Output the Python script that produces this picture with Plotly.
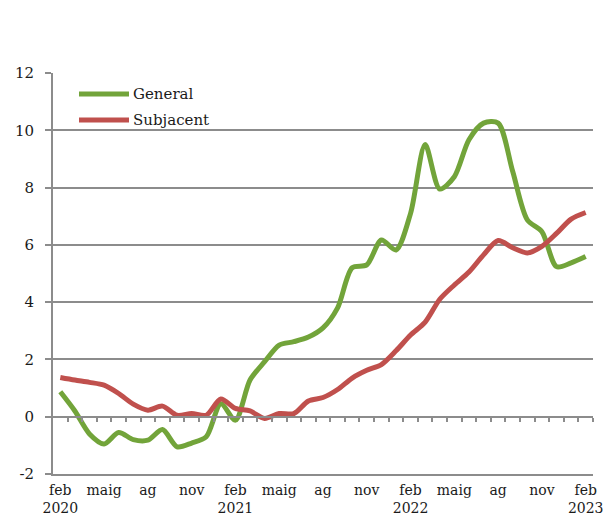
import plotly.graph_objects as go

categories = list(range(37))  # monthly, feb 2020 .. feb 2023

general = [0.87, 0.2, -0.6, -0.95, -0.55, -0.8, -0.82, -0.45, -1.05, -0.92, -0.7, 0.45,
           -0.12, 1.28, 1.92, 2.5, 2.62, 2.78, 3.1, 3.8, 5.2, 5.3, 6.17, 5.82,
           7.1, 9.5, 7.95, 8.38, 9.67, 10.25, 10.25, 8.56, 6.87, 6.46, 5.24, 5.37, 5.59]
subjacent = [1.37, 1.28, 1.2, 1.1, 0.81, 0.44, 0.23, 0.37, 0.05, 0.11, 0.05, 0.62,
             0.29, 0.2, -0.06, 0.11, 0.11, 0.55, 0.67, 0.95, 1.35, 1.62, 1.82, 2.3,
             2.85, 3.3, 4.1, 4.6, 5.05, 5.65, 6.15, 5.9, 5.72, 5.95, 6.4, 6.9, 7.13]

tick_idx = [0, 3, 6, 9, 12, 15, 18, 21, 24, 27, 30, 33, 36]
tick_text = ["feb<br>2020", "maig", "ag", "nov", "feb<br>2021", "maig", "ag", "nov",
             "feb<br>2022", "maig", "ag", "nov", "feb<br>2023"]
y_ticks = [-2, 0, 2, 4, 6, 8, 10, 12]
y_text = ["-2", "0", "2", "4", "6", "8", "10", "12"]
series_names = ["General", "Subjacent"]

GREEN = "#72A43A"
RED = "#C0504D"
GRID = "#8C8C8C"
FONT = "DejaVu Serif"
TXT = "#1a1a1a"

W, H = 611, 515
L, R, T, B = 53, 18, 73, 41
PW, PH = W - L - R, H - T - B


def px_x(p):
    return (p - L) / PW


def px_y(p):
    return (H - B - p) / PH


fig = go.Figure()
fig.add_trace(go.Scatter(x=categories, y=general, name=series_names[0], mode="lines",
                         line=dict(color=GREEN, width=5, shape="spline", smoothing=0.8)))
fig.add_trace(go.Scatter(x=categories, y=subjacent, name=series_names[1], mode="lines",
                         line=dict(color=RED, width=5, shape="spline", smoothing=0.8)))
# helper trace so the zero-line category axis (with tick marks) is drawn
fig.add_trace(go.Scatter(x=categories, y=general, xaxis="x2", mode="lines",
                         line=dict(width=0), opacity=0, showlegend=False, hoverinfo="skip"))

# legend drawn as swatches + labels (long Excel-style swatches)
for name, color, yp in [(series_names[0], GREEN, 94), (series_names[1], RED, 120)]:
    fig.add_shape(type="line", xref="paper", yref="paper",
                  x0=px_x(79), x1=px_x(129), y0=px_y(yp), y1=px_y(yp),
                  line=dict(color=color, width=5), layer="above")
    fig.add_annotation(xref="paper", yref="paper", x=px_x(131), y=px_y(yp),
                       xanchor="left", yanchor="middle", text=name, showarrow=False,
                       font=dict(family=FONT, size=15, color=TXT))

fig.update_layout(
    width=W, height=H,
    margin=dict(l=L, r=R, t=T, b=B, autoexpand=False),
    paper_bgcolor="white", plot_bgcolor="white",
    font=dict(family=FONT, size=14, color=TXT),
    showlegend=False,
    xaxis=dict(range=[-0.5, 36.5], tickmode="array", tickvals=tick_idx, ticktext=tick_text,
               showgrid=False, zeroline=False, showline=True, linecolor=GRID, linewidth=2,
               ticks="", tickfont=dict(family=FONT, size=14, color=TXT),
               ticklabelstandoff=2, automargin=False),
    xaxis2=dict(range=[-0.5, 36.5], overlaying="x", anchor="free", position=1/7,
                tickmode="array", tickvals=[i + 0.5 for i in range(37)],
                showticklabels=False, ticks="outside", ticklen=4, tickwidth=1.5,
                tickcolor=GRID, showgrid=False, zeroline=False, showline=True,
                linecolor=GRID, linewidth=2, automargin=False),
    yaxis=dict(range=[-2, 12], tickmode="array", tickvals=y_ticks, ticktext=y_text,
               showgrid=True, gridcolor=GRID, gridwidth=2, zeroline=False,
               showline=True, linecolor=GRID, linewidth=2,
               ticks="outside", ticklen=6, tickwidth=2, tickcolor=GRID,
               tickfont=dict(family=FONT, size=15, color=TXT), ticklabelstandoff=8,
               automargin=False),
)

fig.write_html("out.html", config={"displayModeBar": False},
               post_script="document.body.style.margin='0';")
